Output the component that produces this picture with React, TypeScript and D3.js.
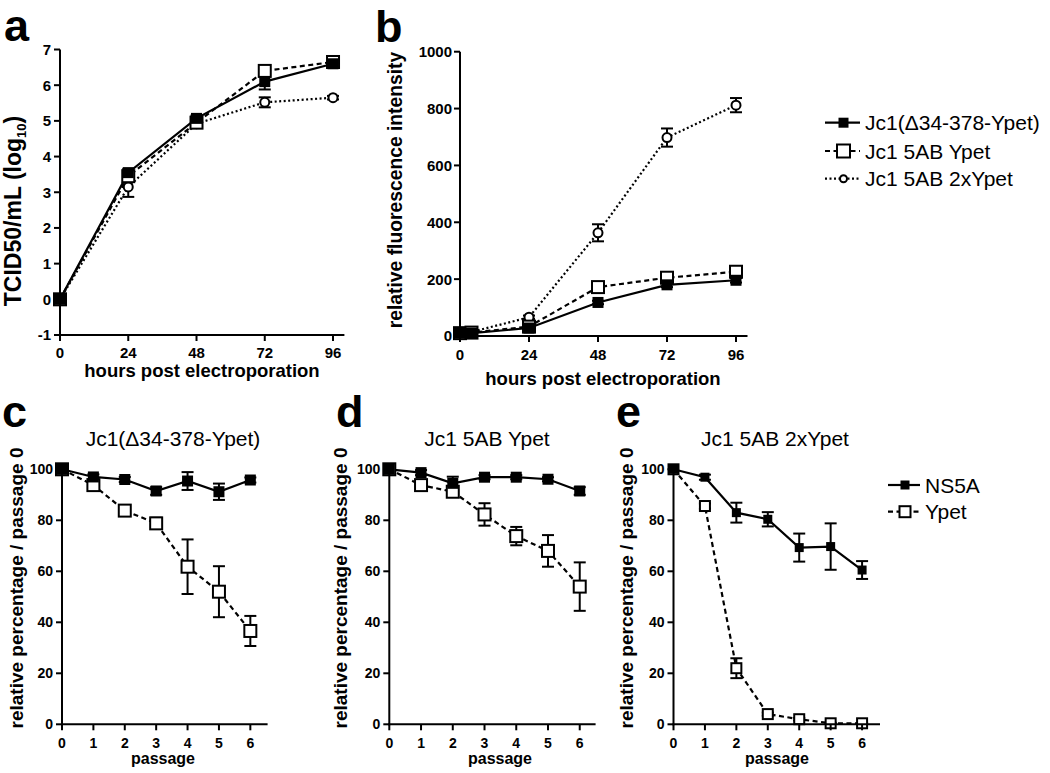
import React from 'react';
import * as d3 from 'd3';

const FONT = "'Liberation Sans', Arial, Helvetica, sans-serif";

// ---------- Panel a: TCID50/mL (log10) ----------
const hoursA = [0, 24, 48, 72, 96];
const aJc1 = [0, 3.55, 5.07, 6.1, 6.6];
const aJc1Err = [0, 0.1, 0.08, 0.22, 0.08];
const a5AB = [0, 3.45, 4.95, 6.4, 6.65];
const a5ABErr = [0, 0.1, 0.05, 0.08, 0.05];
const a2x = [0, 3.15, 4.92, 5.52, 5.65];
const a2xErr = [0, 0.28, 0.05, 0.14, 0.05];
const aYTicks = [-1, 0, 1, 2, 3, 4, 5, 6, 7];
const hourTicks = [0, 24, 48, 72, 96];

// ---------- Panel b: relative fluorescence intensity ----------
const hoursB = [0, 4, 24, 48, 72, 96];
const bJc1 = [10, 10, 28, 118, 180, 196];
const bJc1Err = [2, 2, 4, 6, 8, 8];
const b5AB = [10, 12, 33, 172, 205, 226];
const b5ABErr = [2, 2, 4, 8, 8, 10];
const b2x = [10, 14, 66, 363, 698, 812];
const b2xErr = [2, 2, 6, 30, 32, 25];
const bYTicks = [0, 200, 400, 600, 800, 1000];

// ---------- Panels c, d, e: relative percentage / passage 0 ----------
const passages = [0, 1, 2, 3, 4, 5, 6];
const pctTicks = [0, 20, 40, 60, 80, 100];
const cNS5A = [100, 97, 96, 91.5, 95.4, 91.2, 95.8];
const cNS5AErr = [0, 1, 1, 1.5, 3.5, 3.2, 1];
const cYpet = [100, 93.8, 83.8, 78.8, 61.8, 52, 36.6];
const cYpetErr = [0, 1.5, 1.5, 2.2, 10.7, 10, 5.9];
const dNS5A = [100, 98.7, 94.5, 96.9, 96.9, 96.1, 91.5];
const dNS5AErr = [0, 1, 2.6, 0.8, 0.8, 0.8, 1.5];
const dYpet = [100, 93.8, 91.2, 82.3, 73.8, 68, 54];
const dYpetErr = [0, 1.5, 1.5, 4.4, 3.6, 6.2, 9.5];
const eNS5A = [100, 96.9, 83, 80.4, 69.3, 69.7, 60.5];
const eNS5AErr = [0, 1, 3.9, 2.8, 5.5, 9.1, 3.5];
const eYpet = [100, 85.6, 22, 4, 2, 0.4, 0.4];
const eYpetErr = [0, 1, 3.9, 0.6, 0.5, 0.2, 0.2];

const seriesNamesAB = ['Jc1(\u039434-378-Ypet)', 'Jc1 5AB Ypet', 'Jc1 5AB 2xYpet'];
const seriesNamesCDE = ['NS5A', 'Ypet'];
const panelTitles = ['Jc1(\u039434-378-Ypet)', 'Jc1 5AB Ypet', 'Jc1 5AB 2xYpet'];

type LineStyle = 'solid' | 'dashed' | 'dotted';
type Marker = 'filled' | 'openSquare' | 'openCircle';
interface Series {
  xs: number[];
  ys: number[];
  err: number[];
  line: LineStyle;
  marker: Marker;
}

const dashFor = (l: LineStyle) => (l === 'dashed' ? '5,3.5' : l === 'dotted' ? '2,2.5' : undefined);

function MarkerShape({ x, y, marker, size }: { x: number; y: number; marker: Marker; size: number }) {
  if (marker === 'filled') {
    return <rect x={x - size / 2} y={y - size / 2} width={size} height={size} fill="#000" />;
  }
  if (marker === 'openSquare') {
    const s = size + 1;
    return <rect x={x - s / 2} y={y - s / 2} width={s} height={s} fill="#fff" stroke="#000" strokeWidth={2} />;
  }
  return <circle cx={x} cy={y} r={size / 2 - 1} fill="#fff" stroke="#000" strokeWidth={2} />;
}

interface PanelProps {
  xRange: [number, number];
  yRange: [number, number];
  xDomain: [number, number];
  yDomain: [number, number];
  xTicks: number[];
  yTicks: number[];
  series: Series[];
  tickFont: number;
  xTickDy: number;
  yTickDx: number;
  markerSize: number;
}

function Panel(p: PanelProps) {
  const x = d3.scaleLinear().domain(p.xDomain).range(p.xRange);
  const y = d3.scaleLinear().domain(p.yDomain).range(p.yRange);
  const ax = x(p.xDomain[0]);
  const ay = y(p.yDomain[0]);
  const yTop = y(p.yTicks[p.yTicks.length - 1]);
  const xEnd = p.xRange[1];
  return (
    <g>
      {p.series.map((s, i) => {
        const line = d3
          .line<number>()
          .x((_, j) => x(s.xs[j]))
          .y((v) => y(v));
        return (
          <path
            key={'l' + i}
            d={line(s.ys) || ''}
            fill="none"
            stroke="#000"
            strokeWidth={2.2}
            strokeDasharray={dashFor(s.line)}
          />
        );
      })}
      {p.series.map((s, i) =>
        s.ys.map((v, j) =>
          s.err[j] > 0 ? (
            <g key={'e' + i + '-' + j} stroke="#000" strokeWidth={2}>
              <line x1={x(s.xs[j])} x2={x(s.xs[j])} y1={y(v - s.err[j])} y2={y(v + s.err[j])} />
              <line x1={x(s.xs[j]) - 6} x2={x(s.xs[j]) + 6} y1={y(v - s.err[j])} y2={y(v - s.err[j])} />
              <line x1={x(s.xs[j]) - 6} x2={x(s.xs[j]) + 6} y1={y(v + s.err[j])} y2={y(v + s.err[j])} />
            </g>
          ) : null
        )
      )}
      {p.series.map((s, i) =>
        s.ys.map((v, j) => (
          <MarkerShape key={'m' + i + '-' + j} x={x(s.xs[j])} y={y(v)} marker={s.marker} size={p.markerSize} />
        ))
      )}
      <line x1={ax} x2={ax} y1={ay + 1} y2={yTop} stroke="#000" strokeWidth={2} />
      <line x1={ax - 1} x2={xEnd} y1={ay} y2={ay} stroke="#000" strokeWidth={2} />
      {p.yTicks.map((t) => (
        <g key={'yt' + t}>
          <line x1={ax - 6} x2={ax} y1={y(t)} y2={y(t)} stroke="#000" strokeWidth={2} />
          <text
            x={ax + p.yTickDx}
            y={y(t)}
            dy="0.36em"
            textAnchor="end"
            fontFamily={FONT}
            fontWeight="bold"
            fontSize={p.tickFont}
          >
            {t}
          </text>
        </g>
      ))}
      {p.xTicks.map((t) => (
        <g key={'xt' + t}>
          <line x1={x(t)} x2={x(t)} y1={ay} y2={ay + 6} stroke="#000" strokeWidth={2} />
          <text
            x={x(t)}
            y={ay + p.xTickDy}
            textAnchor="middle"
            fontFamily={FONT}
            fontWeight="bold"
            fontSize={p.tickFont}
          >
            {t}
          </text>
        </g>
      ))}
    </g>
  );
}

function LegendRow({ x, y, line, marker, label, len, size }: { x: number; y: number; line: LineStyle; marker: Marker; label: string; len: number; size: number }) {
  return (
    <g>
      <line x1={x} x2={x + len} y1={y} y2={y} stroke="#000" strokeWidth={2.2} strokeDasharray={dashFor(line)} />
      <MarkerShape x={x + len / 2 + 1} y={y} marker={marker} size={size} />
      <text x={x + len + 5} y={y + 7.5} fontFamily={FONT} fontSize={21}>
        {label}
      </text>
    </g>
  );
}

function YLabel({ x, y, children, size }: { x: number; y: number; children: React.ReactNode; size: number }) {
  return (
    <text
      transform={`translate(${x},${y}) rotate(-90)`}
      dy="0.35em"
      textAnchor="middle"
      fontFamily={FONT}
      fontWeight="bold"
      fontSize={size}
    >
      {children}
    </text>
  );
}

function Letter({ x, y, c }: { x: number; y: number; c: string }) {
  return (
    <text x={x} y={y} fontFamily={FONT} fontWeight="bold" fontSize={45}>
      {c}
    </text>
  );
}

export default function App() {
  const seriesA: Series[] = [
    { xs: hoursA, ys: a2x, err: a2xErr, line: 'dotted', marker: 'openCircle' },
    { xs: hoursA, ys: a5AB, err: a5ABErr, line: 'dashed', marker: 'openSquare' },
    { xs: hoursA, ys: aJc1, err: aJc1Err, line: 'solid', marker: 'filled' },
  ];
  const seriesB: Series[] = [
    { xs: hoursB, ys: b2x, err: b2xErr, line: 'dotted', marker: 'openCircle' },
    { xs: hoursB, ys: b5AB, err: b5ABErr, line: 'dashed', marker: 'openSquare' },
    { xs: hoursB, ys: bJc1, err: bJc1Err, line: 'solid', marker: 'filled' },
  ];
  const mk = (ns: number[], nsE: number[], yp: number[], ypE: number[]): Series[] => [
    { xs: passages, ys: yp, err: ypE, line: 'dashed', marker: 'openSquare' },
    { xs: passages, ys: ns, err: nsE, line: 'solid', marker: 'filled' },
  ];
  const cdeY: [number, number] = [724.3, 469.3];
  return (
    <svg width={1050} height={773} style={{ display: 'block', position: 'absolute', left: 0, top: 0, background: '#fff' }}>
      <rect x={0} y={0} width={1050} height={773} fill="#fff" />
      {/* Panel a */}
      <Letter x={4} y={41} c="a" />
      <Panel
        xRange={[60, 344.4]}
        yRange={[335, 49.5]}
        xDomain={[0, 100]}
        yDomain={[-1, 7]}
        xTicks={hourTicks}
        yTicks={aYTicks}
        series={seriesA}
        tickFont={15}
        xTickDy={23}
        yTickDx={-9}
        markerSize={11}
      />
      <YLabel x={13} y={211} size={23}>
        TCID50/mL (log
        <tspan fontSize={13} dy="5">10</tspan>
        <tspan dy="-5">)</tspan>
      </YLabel>
      <text x={202} y={377} textAnchor="middle" fontFamily={FONT} fontWeight="bold" fontSize={18.5}>
        hours post electroporation
      </text>

      {/* Panel b */}
      <Letter x={375} y={42} c="b" />
      <Panel
        xRange={[460, 747.5]}
        yRange={[336, 51.7]}
        xDomain={[0, 100]}
        yDomain={[0, 1000]}
        xTicks={hourTicks}
        yTicks={bYTicks}
        series={seriesB}
        tickFont={15}
        xTickDy={24}
        yTickDx={-8}
        markerSize={11}
      />
      <YLabel x={395} y={190} size={19.3}>
        relative fluorescence intensity
      </YLabel>
      <text x={603} y={385} textAnchor="middle" fontFamily={FONT} fontWeight="bold" fontSize={18.5}>
        hours post electroporation
      </text>

      {/* Legend a/b */}
      <LegendRow x={825} y={122.7} line="solid" marker="filled" label={seriesNamesAB[0]} len={35} size={10} />
      <LegendRow x={825} y={151} line="dashed" marker="openSquare" label={seriesNamesAB[1]} len={35} size={12} />
      <LegendRow x={825} y={178.7} line="dotted" marker="openCircle" label={seriesNamesAB[2]} len={35} size={9} />

      {/* Panel c */}
      <Letter x={2} y={427} c="c" />
      <text x={173} y={446} textAnchor="middle" fontFamily={FONT} fontSize={21}>
        {panelTitles[0]}
      </text>
      <Panel
        xRange={[62, 267.6]}
        yRange={cdeY}
        xDomain={[0, 6.55]}
        yDomain={[0, 100]}
        xTicks={passages}
        yTicks={pctTicks}
        series={mk(cNS5A, cNS5AErr, cYpet, cYpetErr)}
        tickFont={14}
        xTickDy={24}
        yTickDx={-9}
        markerSize={11}
      />
      <YLabel x={16} y={588} size={19}>
        relative percentage / passage 0
      </YLabel>
      <text x={163} y={764} textAnchor="middle" fontFamily={FONT} fontWeight="bold" fontSize={16}>
        passage
      </text>

      {/* Panel d */}
      <Letter x={336} y={427} c="d" />
      <text x={487} y={446} textAnchor="middle" fontFamily={FONT} fontSize={21}>
        {panelTitles[1]}
      </text>
      <Panel
        xRange={[389.3, 595.6]}
        yRange={cdeY}
        xDomain={[0, 6.5]}
        yDomain={[0, 100]}
        xTicks={passages}
        yTicks={pctTicks}
        series={mk(dNS5A, dNS5AErr, dYpet, dYpetErr)}
        tickFont={14}
        xTickDy={24}
        yTickDx={-9}
        markerSize={11}
      />
      <YLabel x={340} y={588} size={19}>
        relative percentage / passage 0
      </YLabel>
      <text x={500} y={764} textAnchor="middle" fontFamily={FONT} fontWeight="bold" fontSize={16}>
        passage
      </text>

      {/* Panel e */}
      <Letter x={616} y={427} c="e" />
      <text x={775} y={446} textAnchor="middle" fontFamily={FONT} fontSize={21}>
        {panelTitles[2]}
      </text>
      <Panel
        xRange={[673.5, 880]}
        yRange={cdeY}
        xDomain={[0, 6.57]}
        yDomain={[0, 100]}
        xTicks={passages}
        yTicks={pctTicks}
        series={mk(eNS5A, eNS5AErr, eYpet, eYpetErr)}
        tickFont={14}
        xTickDy={24}
        yTickDx={-9}
        markerSize={9}
      />
      <YLabel x={626} y={588} size={19}>
        relative percentage / passage 0
      </YLabel>
      <text x={777} y={764} textAnchor="middle" fontFamily={FONT} fontWeight="bold" fontSize={16}>
        passage
      </text>

      {/* Legend c-e */}
      <LegendRow x={888} y={485} line="solid" marker="filled" label={seriesNamesCDE[0]} len={32} size={9} />
      <LegendRow x={888} y={511.7} line="dashed" marker="openSquare" label={seriesNamesCDE[1]} len={32} size={10} />
    </svg>
  );
}
